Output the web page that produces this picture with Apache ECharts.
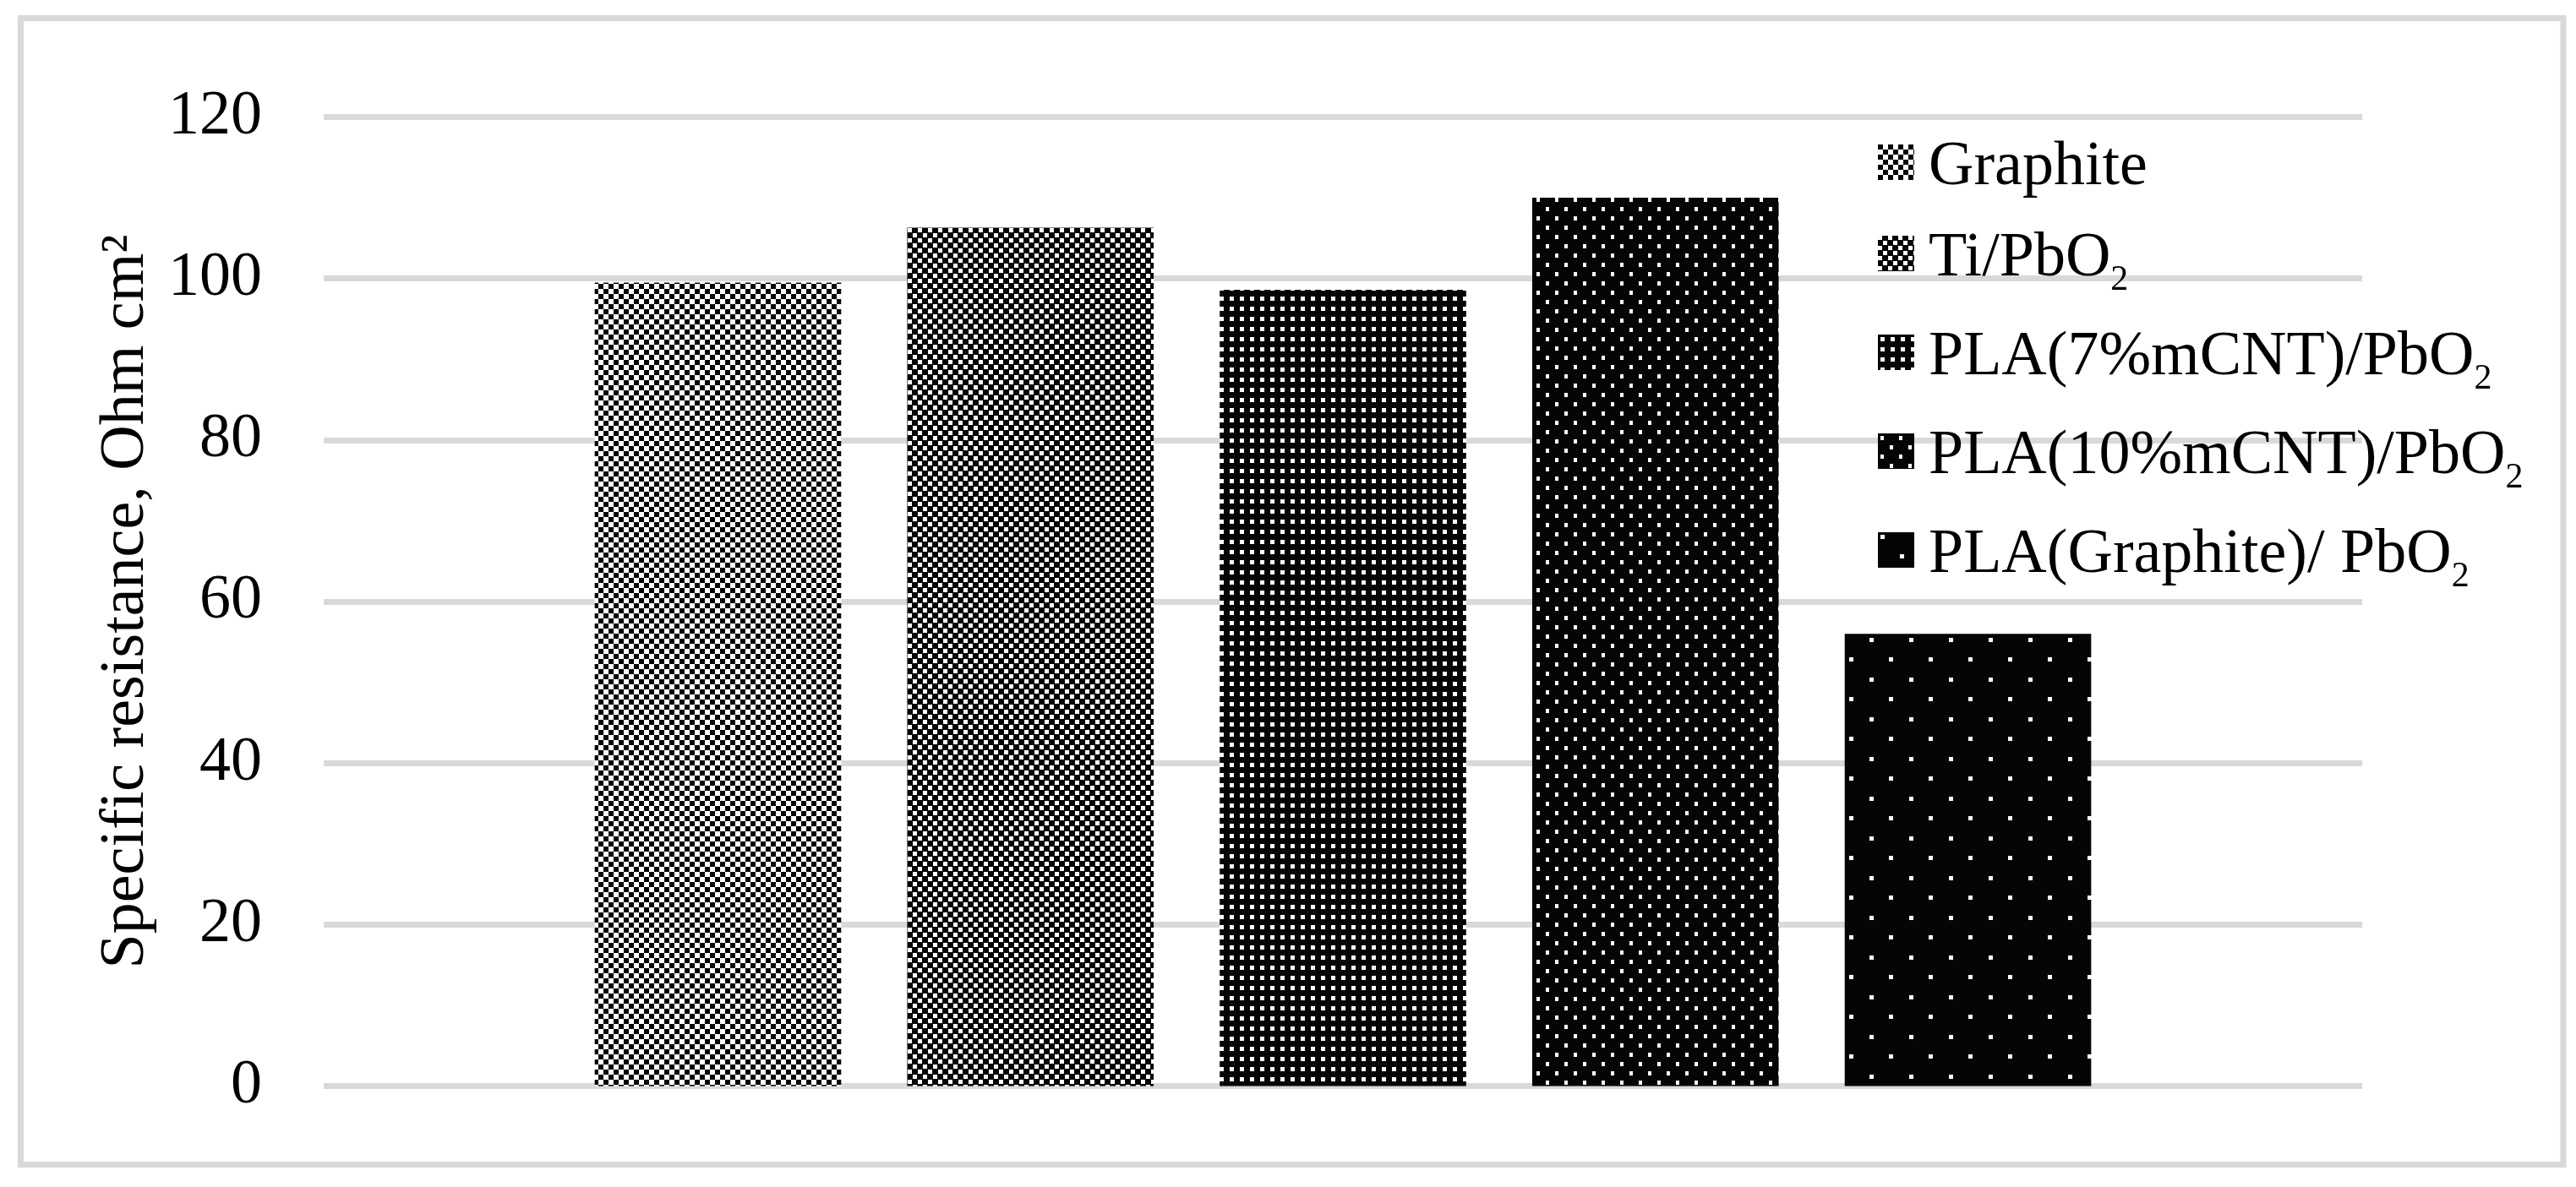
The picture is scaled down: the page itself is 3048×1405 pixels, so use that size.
<!DOCTYPE html>
<html>
<head>
<meta charset="utf-8">
<script src="https://cdn.jsdelivr.net/npm/echarts@6/dist/echarts.min.js"></script>
<style>
html,body{margin:0;padding:0;background:#fff;}
#chart{width:3048px;height:1405px;}
</style>
</head>
<body>
<div id="chart"></div>
<script>
// ---- data ----
const categories = [''];
const seriesNames = ['Graphite', 'Ti/PbO2', 'PLA(7%mCNT)/PbO2', 'PLA(10%mCNT)/PbO2', 'PLA(Graphite)/ PbO2'];
const seriesValues = [99.5, 106.3, 98.6, 110.0, 56.0];
const yTicks = [0, 20, 40, 60, 80, 100, 120];
const yTitle = 'Specific resistance, Ohm cm\u00B2';

// ---- fill patterns (style only) ----
function tile(w, h, bg, fg, rects) {
  const c = document.createElement('canvas');
  c.width = w; c.height = h;
  const g = c.getContext('2d');
  g.fillStyle = bg; g.fillRect(0, 0, w, h);
  g.fillStyle = fg;
  rects.forEach(r => g.fillRect(r[0], r[1], r[2], r[3]));
  return { image: c, repeat: 'repeat' };
}
const patterns = [
  tile(12, 12, '#ffffff', '#050505', [[0,0,6,6],[6,6,6,6]]),
  tile(12, 12, '#050505', '#ffffff', [[0,0,5,5],[6,6,5,5]]),
  tile(12, 12, '#050505', '#ffffff', [[3,3,5,5]]),
  tile(22, 22, '#050505', '#ffffff', [[3,3,4,5],[14,14,4,5]]),
  tile(47, 47, '#050505', '#ffffff', [[3,3,5,5],[26,26,5,5]])
];

const FONT = '"Liberation Serif", "DejaVu Serif", serif';

function richName(name) {
  const m = name.match(/^(.*)2$/);
  if (m) return '{m|' + m[1] + '}{s|2}';
  return '{m|' + name + '}';
}

const chart = echarts.init(document.getElementById('chart'), null, { renderer: 'canvas' });
const option = {
  backgroundColor: '#ffffff',
  animation: false,
  graphic: [{
    type: 'rect',
    shape: { x: 24.5, y: 21.5, width: 3008.5, height: 1357 },
    style: { fill: 'none', stroke: '#d9d9d9', lineWidth: 7 },
    silent: true
  }],
  grid: { left: 383, right: 253, top: 138.5, bottom: 119.5, containLabel: false },
  legend: {
    orient: 'vertical',
    left: 2222,
    top: 162,
    padding: 0,
    itemWidth: 43,
    itemHeight: 42,
    itemGap: 34,
    icon: 'rect',
    data: seriesNames,
    formatter: richName,
    textStyle: {
      color: '#000',
      fontFamily: FONT,
      fontSize: 74,
      lineHeight: 60,
      rich: {
        m: { fontSize: 74, lineHeight: 60, fontFamily: FONT, color: '#000', padding: [0, 0, 0, 12], verticalAlign: 'top' },
        s: { fontSize: 42, lineHeight: 18, fontFamily: FONT, color: '#000', padding: [41, 0, 0, 0], verticalAlign: 'top' }
      }
    }
  },
  xAxis: {
    type: 'category',
    data: categories,
    axisLine: { show: false },
    axisTick: { show: false },
    axisLabel: { show: false },
    splitLine: { show: false }
  },
  yAxis: {
    type: 'value',
    min: yTicks[0],
    max: yTicks[yTicks.length - 1],
    interval: yTicks[1] - yTicks[0],
    axisLine: { show: false },
    axisTick: { show: false },
    axisLabel: { color: '#000', fontSize: 74, fontFamily: FONT, margin: 73 },
    splitLine: { lineStyle: { color: '#d9d9d9', width: 7 } },
    name: yTitle,
    nameLocation: 'middle',
    nameGap: 196,
    nameRotate: 90,
    nameTextStyle: { color: '#000', fontSize: 74, fontFamily: FONT }
  },
  series: seriesNames.map((n, i) => ({
    name: n,
    type: 'bar',
    data: [seriesValues[i]],
    barWidth: '12.09%',
    barGap: '26.8%',
    itemStyle: { color: patterns[i] }
  }))
};
chart.setOption(option);
</script>
</body>
</html>
